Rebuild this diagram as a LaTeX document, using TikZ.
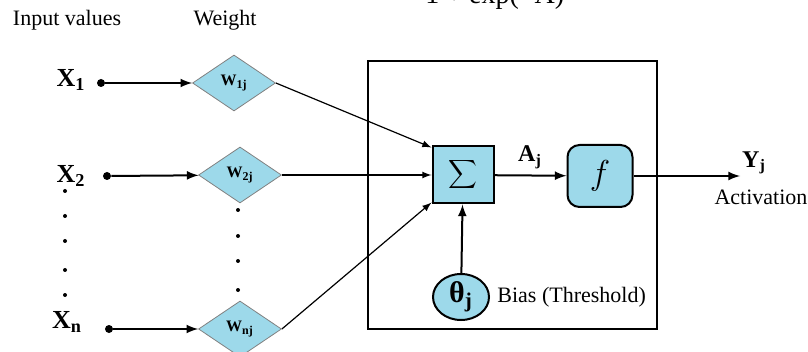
\documentclass[tikz,border=0pt]{standalone}
\usepackage{fontspec}
\setmainfont{Liberation Serif}
\usetikzlibrary{shapes.geometric, arrows}
\definecolor{cellblue}{RGB}{157,217,234}
\newcommand{\lblsub}[2]{#1\textsubscript{#2}}
\tikzset{
  weight/.style={diamond, draw=gray, fill=cellblue, minimum width=41.5pt,
    minimum height=28pt, inner sep=0pt, font=\bfseries\fontsize{8}{9}\selectfont},
  inval/.style={font=\bfseries\fontsize{13}{15}\selectfont},
  indot/.style={circle, fill, inner sep=0pt, minimum size=4pt},
  plain/.style={font=\fontsize{11}{13}\selectfont},
}

\begin{document}
\begin{tikzpicture}[x=0.5pt, y=-0.5pt]
    \useasboundingbox (0,0) rectangle (808,352);
    \begin{scope}
        \clip (0,0) rectangle (808,352);
        \node[anchor=base west, inner sep=0pt, font=\fontsize{14}{16}\selectfont] (expr) at (425,4) {1 + exp(−A)};
    \end{scope}

    \node[plain] (inputs) at (67,20) {Input values};
    \node[plain] (weights) at (225,20) {Weight};

    \node[inval] (x1) at (71,80) {\lblsub{X}{1}};
    \node[inval] (x2) at (71,176) {\lblsub{X}{2}};
    \node[inval] (xn) at (67,322) {\lblsub{X}{n}};
    \node[indot] (d1) at (101,83) {};
    \node[indot] (d2) at (107,176) {};
    \node[indot] (dn) at (109,329) {};

    \node[weight] (w1j) at (234,83) {\lblsub{W}{1j}};
    \node[weight] (w2j) at (240,175) {\lblsub{W}{2j}};
    \node[weight] (wnj) at (240,329) {\lblsub{W}{nj}};

    \foreach \y in {191,216,241,270,295} \fill (65,\y) circle (1pt);
    \foreach \y in {210,236,261,290} \fill (238,\y) circle (1pt);

    \draw[line width=0.7pt] (368,61) rectangle (657,329);

    \node[draw, line width=1pt, fill=cellblue, minimum width=30.5pt, minimum height=28.5pt,
      inner sep=0pt, font=\fontsize{11}{13}\selectfont] (sum) at (463,175) {$\displaystyle\sum$};
    \node[draw, line width=1pt, fill=cellblue, rounded corners=6pt, minimum width=32.5pt,
      minimum height=31pt, inner sep=0pt, font=\fontsize{17}{19}\selectfont] (f) at (600,176) {$f$};
    \node[ellipse, draw, line width=1pt, fill=cellblue, minimum width=28pt, minimum height=23pt,
      inner sep=0pt, font=\bfseries\fontsize{15}{17}\selectfont] (theta) at (461,297) {\lblsub{θ}{j}};
    \node[plain, anchor=west, inner sep=0pt] (bias) at (497,297) {Bias (Threshold)};

    \node[font=\bfseries\fontsize{12}{14}\selectfont] (aj) at (530,157) {\lblsub{A}{j}};
    \coordinate (yout) at (740,176);
    \node[font=\bfseries\fontsize{12}{14}\selectfont] (yj) at (754,163) {\lblsub{Y}{j}};
    \node[plain] (act) at (761,197) {Activation};

    \draw[-latex, line width=1pt] (d1) -- (w1j);
    \draw[-latex, line width=1pt] (d2) -- (w2j);
    \draw[-latex, line width=1pt] (dn) -- (wnj);

    \draw[-latex, line width=0.6pt] (w1j.east) -- ([yshift=-1pt]sum.north west);
    \draw[-latex, line width=0.6pt] (w2j.east) -- (sum.west);
    \draw[-latex, line width=0.6pt] (wnj.east) -- ([yshift=1pt]sum.south west);
    \draw[-latex, line width=1pt] (theta) -- (sum);
    \draw[-latex, line width=1pt] (sum) -- (f);
    \draw[-latex, line width=1pt] (f) -- (yout);
\end{tikzpicture}
\end{document}
